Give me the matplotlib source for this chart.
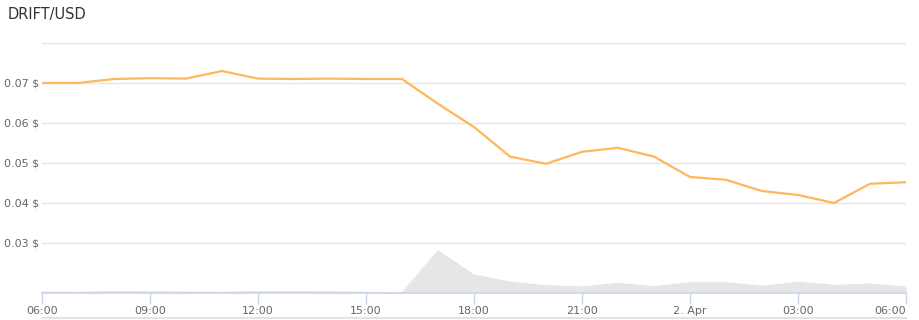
import numpy as np
import matplotlib.pyplot as plt

# часы от 06:00 1 апреля до 06:00 2 апреля
hours = list(range(25))
price = [0.0700, 0.0700, 0.0710, 0.0712, 0.0711, 0.0730, 0.0711, 0.0710, 0.0711,
         0.0710, 0.0710, 0.0648, 0.0590, 0.0516, 0.0498, 0.0528, 0.0538, 0.0516,
         0.0465, 0.0458, 0.0430, 0.0420, 0.0400, 0.0448, 0.0452]
volume = [1.0, 0.8, 1.5, 1.3, 1.0, 0.8, 1.5, 1.5, 1.2, 0.8, 0.3, 42, 18, 11,
          7.3, 6.0, 9.7, 6.3, 10.3, 10.3, 6.7, 10.7, 7.7, 9.0, 6.0]
tick_hours = [0, 3, 6, 9, 12, 15, 18, 21, 24]
tick_labels = ["06:00", "09:00", "12:00", "15:00", "18:00", "21:00", "2. Apr", "03:00", "06:00"]
price_ticks = [0.03, 0.04, 0.05, 0.06, 0.07, 0.08]
price_labels = ["0.03 $", "0.04 $", "0.05 $", "0.06 $", "0.07 $", ""]

W, H = 920, 320
fig = plt.figure(figsize=(W / 100, H / 100), dpi=100)
fig.patch.set_facecolor("white")

left = 42 / W
width = 864 / W
bottom = (H - 293) / H

# Цена
ax = fig.add_axes([left, bottom, width, 250 / H])
ax.plot(hours, price, color="#ffb65c", lw=1.6, zorder=3, solid_joinstyle="round")
ax.set_xlim(0, 24)
ax.set_ylim(0.08 - 250 / 40 * 0.01, 0.08)
ax.set_yticks(price_ticks)
ax.set_yticklabels(price_labels)
ax.grid(axis="y", color="#e6e6e6", lw=1)
ax.tick_params(axis="y", length=0, pad=2, labelsize=8, labelcolor="#666666")
ax.set_xticks([])
for s in ax.spines.values():
    s.set_visible(False)
ax.patch.set_alpha(0)

# Объём
axv = fig.add_axes([left, bottom, width, 50 / H], zorder=-1)
axv.fill_between(hours, volume, 0, color="#e6e6e6", lw=0)
axv.plot(hours, volume, color="#dddddd", lw=0.6)
axv.set_xlim(0, 24)
axv.set_ylim(0, max(volume) / 0.84)
axv.set_yticks([])
axv.set_xticks(tick_hours)
axv.set_xticklabels(tick_labels)
axv.tick_params(axis="x", length=8, width=1, color="#ccd6eb", pad=1,
                labelsize=8, labelcolor="#666666")
axv.get_xticklabels()[-1].set_ha("right")
for name, s in axv.spines.items():
    s.set_visible(name == "bottom")
axv.spines["bottom"].set_color("#ccd6eb")
axv.spines["bottom"].set_linewidth(1.2)

# полоса навигатора внизу
fig.add_artist(plt.Line2D([left, left + width], [2 / H, 2 / H], color="#e8e2da", lw=1.5))

fig.text(8 / W, 1 - 14 / H, "DRIFT/USD", fontsize=10.5, color="#333333", va="center")

fig.savefig("out.png", dpi=100)
